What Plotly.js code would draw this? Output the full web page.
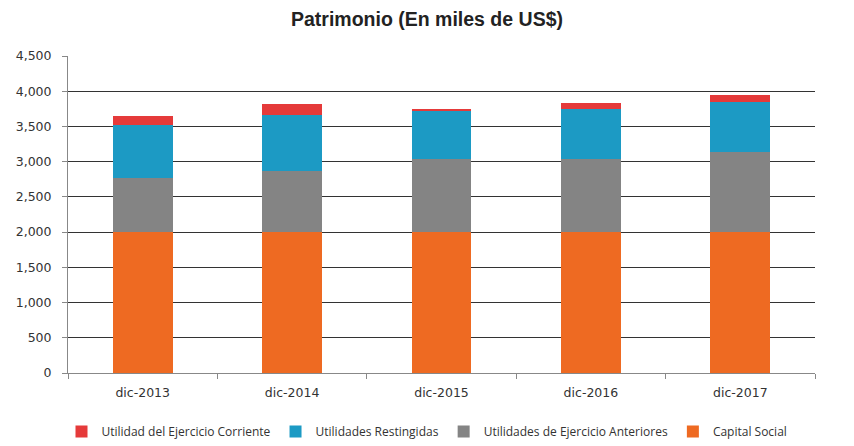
<!DOCTYPE html>
<html>
<head>
<meta charset="utf-8">
<script src="https://cdn.plot.ly/plotly-3.0.1.min.js"></script>
<style>html,body{margin:0;padding:0;background:#fff;}#chart{width:854px;height:446px;}</style>
</head>
<body>
<div id="chart"></div>
<script>
const categories = ["dic-2013", "dic-2014", "dic-2015", "dic-2016", "dic-2017"];
const capitalSocial = [2000, 2000, 2000, 2000, 2000];
const utilidadesAnteriores = [770, 873, 1039, 1040, 1143];
const utilidadesRestringidas = [753, 791, 681, 705, 710];
const utilidadCorriente = [128, 156, 25, 93, 90];
const yTickVals = [0, 500, 1000, 1500, 2000, 2500, 3000, 3500, 4000, 4500];

const traces = [
  {name: "Capital Social", y: capitalSocial, color: "#ee6a22"},
  {name: "Utilidades de Ejercicio Anteriores", y: utilidadesAnteriores, color: "#848484"},
  {name: "Utilidades Restingidas", y: utilidadesRestringidas, color: "#1c9ac4"},
  {name: "Utilidad del Ejercicio Corriente", y: utilidadCorriente, color: "#e53a3a"}
].map(t => ({
  type: "bar", x: categories, y: t.y, name: t.name,
  marker: {color: t.color, line: {width: 0}}
}));

const layout = {
  width: 854, height: 446,
  margin: {l: 68, r: 39, t: 56, b: 73, autoexpand: false},
  paper_bgcolor: "#fff", plot_bgcolor: "#fff",
  barmode: "stack", bargap: 0.6,
  title: {text: "<b>Patrimonio (En miles de US$)</b>", x: 0.5, xanchor: "center", y: 0.972,
          font: {family: "Liberation Sans, Arial, sans-serif", size: 19.5, color: "#222"}},
  font: {family: "DejaVu Sans, Verdana, sans-serif", size: 12.5, color: "#333"},
  xaxis: {
    showline: true, linecolor: "#888", linewidth: 1,
    ticks: "outside", tickson: "boundaries", ticklen: 5, tickcolor: "#888",
    ticklabelstandoff: 8,
    showgrid: false, tickfont: {size: 12.5, color: "#333"}
  },
  yaxis: {
    range: [0, 4500], tickvals: yTickVals, tickformat: ",d",
    showline: true, linecolor: "#888", linewidth: 1,
    ticks: "outside", ticklen: 5, tickcolor: "#888",
    ticklabelstandoff: 8,
    showgrid: true, gridcolor: "#333", gridwidth: 1.2,
    zeroline: false, tickfont: {size: 12.5, color: "#333"}
  },
  showlegend: true,
  legend: {
    orientation: "h", traceorder: "reversed",
    xref: "container", yref: "container",
    x: 0.5, xanchor: "center", y: 0.0, yanchor: "bottom",
    font: {family: "Open Sans, sans-serif", size: 12, color: "#333"},
    itemwidth: 30, tracegroupgap: 0
  }
};

Plotly.newPlot("chart", traces, layout, {displayModeBar: false, staticPlot: true});
</script>
</body>
</html>
